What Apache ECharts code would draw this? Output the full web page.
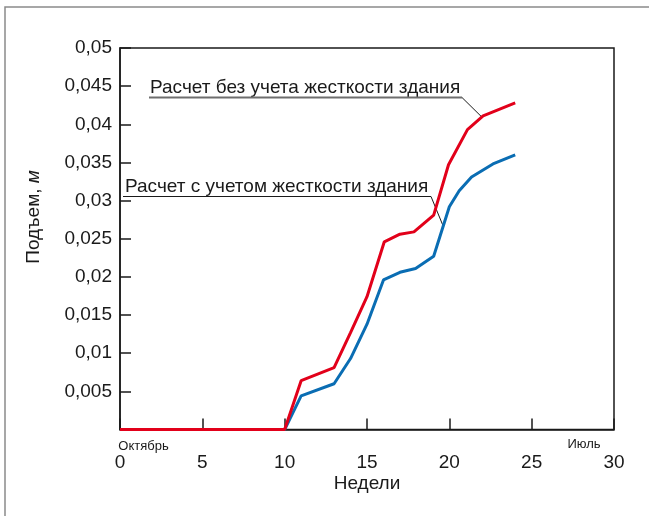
<!DOCTYPE html>
<html>
<head>
<meta charset="utf-8">
<script src="https://cdn.jsdelivr.net/npm/echarts@6/dist/echarts.min.js"></script>
<style>
html,body{margin:0;padding:0;background:#fff;}
#c{width:649px;height:516px;}
</style>
</head>
<body>
<div id="c"></div>
<script>
// Data (weeks, rise in metres)
var weeksRed  = [0, 10, 11, 13, 14, 15, 16.05, 17, 17.85, 19.05, 19.95, 21.1, 22.05, 24];
var valuesRed = [0, 0, 0.0064, 0.0081, 0.0127, 0.0174, 0.0246, 0.0256, 0.0259, 0.0281, 0.0347, 0.0393, 0.0411, 0.0428];
var weeksBlue  = [0, 10, 11, 13, 14, 15, 16, 17, 17.95, 19.05, 20, 20.6, 21.35, 22.65, 24];
var valuesBlue = [0, 0, 0.0044, 0.0060, 0.0093, 0.0138, 0.0196, 0.0206, 0.0211, 0.0227, 0.0292, 0.0313, 0.0331, 0.0348, 0.0360];
var xTicks = [0, 5, 10, 15, 20, 25, 30];
var yTickLabels = ['', '0,005', '0,01', '0,015', '0,02', '0,025', '0,03', '0,035', '0,04', '0,045', '0,05'];
var seriesNames = ['Расчет без учета жесткости здания', 'Расчет с учетом жесткости здания'];
var xName = 'Недели';
var yName = 'Подъем, ';
var yNameUnit = 'м';
var monthStart = 'Октябрь';
var monthEnd = 'Июль';

function pairs(xs, ys){ return xs.map(function(x,i){ return [x, ys[i]]; }); }

var FONT = '"Liberation Sans", Arial, sans-serif';
var chart = echarts.init(document.getElementById('c'), null, {renderer:'canvas'});
var option = {
  animation: false,
  backgroundColor: '#fff',
  grid: {left: 120, right: 35, top: 48, bottom: 86.5, show: true, borderColor: '#1a1a1a', borderWidth: 1.5, backgroundColor: 'transparent'},
  xAxis: {
    type: 'value', min: 0, max: 30, interval: 5,
    axisLine: {show: true, lineStyle: {color: '#1a1a1a', width: 1.5}},
    axisTick: {show: true, inside: true, length: 11, lineStyle: {color: '#1a1a1a', width: 1.5}},
    splitLine: {show: false},
    axisLabel: {margin: 24, fontSize: 19, color: '#1a1a1a', fontFamily: FONT, showMinLabel: true, showMaxLabel: true,
      formatter: function(v){ return xTicks.indexOf(v) >= 0 ? String(v) : ''; }}
  },
  yAxis: {
    type: 'value', min: 0, max: 0.05, interval: 0.005,
    axisLine: {show: true, lineStyle: {color: '#1a1a1a', width: 1.5}},
    axisTick: {show: true, inside: true, length: 11, lineStyle: {color: '#1a1a1a', width: 1.5}},
    splitLine: {show: false},
    axisLabel: {margin: 8, fontSize: 19, color: '#1a1a1a', fontFamily: FONT, showMinLabel: true, showMaxLabel: true,
      formatter: function(v){ return yTickLabels[Math.round(v / 0.005)]; }}
  },
  series: [
    {name: seriesNames[1], type: 'line', data: pairs(weeksBlue, valuesBlue), symbol: 'none',
     lineStyle: {color: '#0a6db3', width: 3}, z: 2},
    {name: seriesNames[0], type: 'line', data: pairs(weeksRed, valuesRed), symbol: 'none',
     lineStyle: {color: '#e2001a', width: 3}, z: 3}
  ]
};
chart.setOption(option);

var pR = chart.convertToPixel({gridIndex: 0}, [21.95, 0.0410]);
var pB = chart.convertToPixel({gridIndex: 0}, [19.6, 0.0268]);
var bottomY = chart.convertToPixel({gridIndex: 0}, [0, 0])[1];
var midX = chart.convertToPixel({gridIndex: 0}, [15, 0])[0];
var x0 = chart.convertToPixel({gridIndex: 0}, [0, 0])[0];
var x30 = chart.convertToPixel({gridIndex: 0}, [30, 0])[0];

chart.setOption({
  graphic: [
    {type: 'polyline', shape: {points: [[5, 520], [5, 7], [660, 7]]}, style: {stroke: '#8a8a8a', lineWidth: 1.5, fill: null}, silent: true},
    {type: 'text', style: {text: seriesNames[0], x: 150, y: 88, fontSize: 19, fontFamily: FONT, fill: '#1a1a1a', verticalAlign: 'middle', align: 'left'}},
    {type: 'line', shape: {x1: 149, y1: 97.5, x2: 462, y2: 97.5}, style: {stroke: '#6e6e6e', lineWidth: 2}},
    {type: 'line', shape: {x1: 462, y1: 97.5, x2: pR[0], y2: pR[1]}, style: {stroke: '#1a1a1a', lineWidth: 1}},
    {type: 'text', style: {text: seriesNames[1], x: 125, y: 187, fontSize: 19, fontFamily: FONT, fill: '#1a1a1a', verticalAlign: 'middle', align: 'left'}},
    {type: 'line', shape: {x1: 123, y1: 196.5, x2: 431, y2: 196.5}, style: {stroke: '#1a1a1a', lineWidth: 1.2}},
    {type: 'line', shape: {x1: 431, y1: 196.5, x2: pB[0], y2: pB[1]}, style: {stroke: '#1a1a1a', lineWidth: 1}},
    {type: 'text', style: {text: monthStart, x: x0 + 23.5, y: bottomY + 16.5, fontSize: 13, fontFamily: FONT, fill: '#1a1a1a', align: 'center', verticalAlign: 'middle'}},
    {type: 'text', style: {text: monthEnd, x: x30 - 30, y: bottomY + 14.5, fontSize: 13, fontFamily: FONT, fill: '#1a1a1a', align: 'center', verticalAlign: 'middle'}},
    {type: 'text', style: {text: xName, x: midX, y: bottomY + 54, fontSize: 19, fontFamily: FONT, fill: '#1a1a1a', align: 'center', verticalAlign: 'middle'}},
    {type: 'text', x: 34, y: 217, rotation: Math.PI / 2,
     style: {text: yName + '{i|' + yNameUnit + '}', fontSize: 19, fontFamily: FONT, fill: '#1a1a1a', align: 'center', verticalAlign: 'middle',
       rich: {i: {fontSize: 19, fontStyle: 'italic', fontFamily: FONT, fill: '#1a1a1a'}}}}
  ]
});
</script>
</body>
</html>
